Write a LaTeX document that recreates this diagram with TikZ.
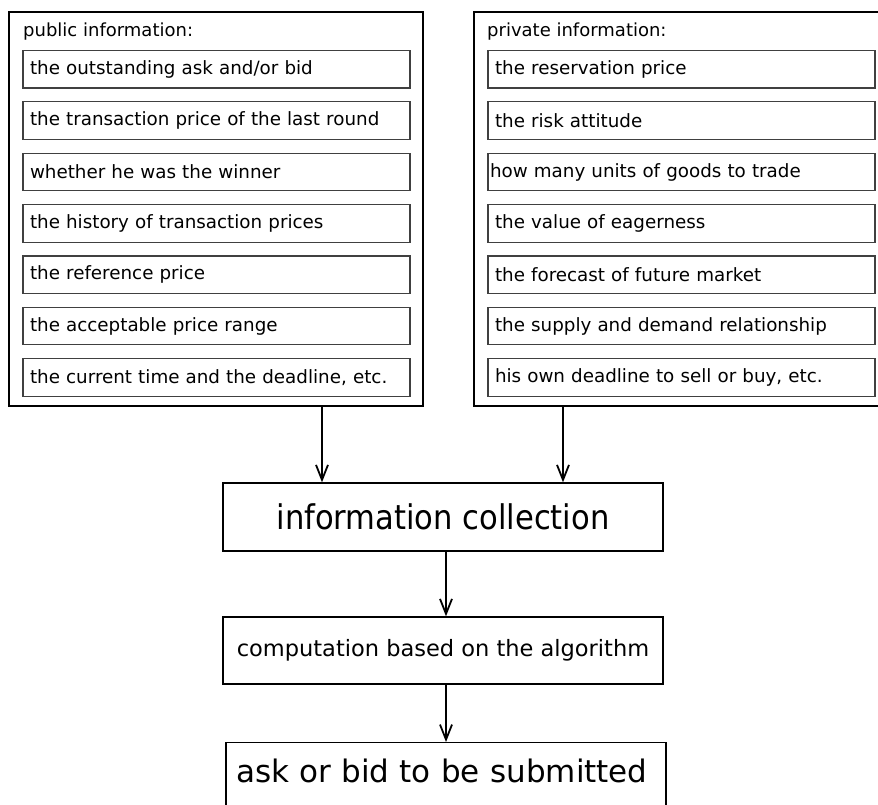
\documentclass[tikz,border=0pt]{standalone}
\usepackage{fontspec}
\setmainfont{DejaVu Sans}
\newfontfamily\condfont{DejaVu Sans Condensed}
\usepackage{tikz}
\usetikzlibrary{arrows.meta, positioning}
\tikzstyle{arrow} = [line width=1.8pt,-{Straight Barb[length=15pt,width=12pt]}]
\tikzstyle{outer} = [draw, line width=1.8pt, inner sep=0pt]
\tikzstyle{item} = [draw=black!75, line width=1.1pt, minimum width=387pt, minimum height=37.5pt, text width=373pt, inner xsep=7pt, align=left, font=\fontsize{18.3}{21}\selectfont]
\tikzstyle{stage} = [draw, line width=1.4pt, minimum width=440pt]

\begin{document}
\begin{tikzpicture}[x=1pt,y=-1pt]
    \clip (0,0) rectangle (878,805);

    % Outer boxes
    \node[outer, minimum width=414pt, minimum height=394pt, anchor=north west] (pub) at (8,11) {};
    \node[outer, minimum width=430pt, minimum height=394pt, anchor=north west] (priv) at (473,11) {};

    % Headers
    \node[anchor=base west, inner sep=0pt, font=\fontsize{18}{21}\selectfont] (pubhead) at (23,37) {public information:};
    \node[anchor=base west, inner sep=0pt, font=\fontsize{18}{21}\selectfont] (privhead) at (487,37) {private information:};

    % Public items
    \foreach \txt [count=\i] in {the outstanding ask and/or bid, the transaction price of the last round,
        whether he was the winner, the history of transaction prices, the reference price,
        the acceptable price range, {the current time and the deadline, etc.}}
        \node[item] (pub\i) at (216.5,17.95+51.35*\i) {\txt};

    % Private items
    \foreach \txt [count=\i] in {the reservation price, the risk attitude,
        {\hspace*{-5pt}how many units of goods to trade}, the value of eagerness, the forecast of future market,
        the supply and demand relationship, {his own deadline to sell or buy, etc.}}
        \node[item] (priv\i) at (681.5,17.95+51.35*\i) {\txt};

    % Process boxes
    \node[stage, minimum height=68pt, font=\condfont\fontsize{34}{38}\selectfont] (collect) at (443,517) {information collection};
    \node[stage, minimum height=67pt, font=\fontsize{22.5}{26}\selectfont] (compute) at (443,650.5) {computation based on the algorithm};
    \node[stage, anchor=north, text width=420pt, inner xsep=10pt, align=left, text height=24pt, text depth=60pt, inner ysep=16pt, font=\fontsize{31}{36}\selectfont] (submit) at (446,742) {ask or bid to be submitted};

    % Arrows
    \coordinate (inL) at ([xshift=-121pt]collect.north);
    \coordinate (inR) at ([xshift=120pt]collect.north);
    \draw[arrow] (pub.south -| inL) -- (inL);
    \draw[arrow] (priv.south -| inR) -- (inR);
    \draw[arrow] ([xshift=3pt]collect.south) -- ([xshift=3pt]compute.north);
    \draw[arrow] ([xshift=3pt]compute.south) -- (submit.north);
\end{tikzpicture}
\end{document}
